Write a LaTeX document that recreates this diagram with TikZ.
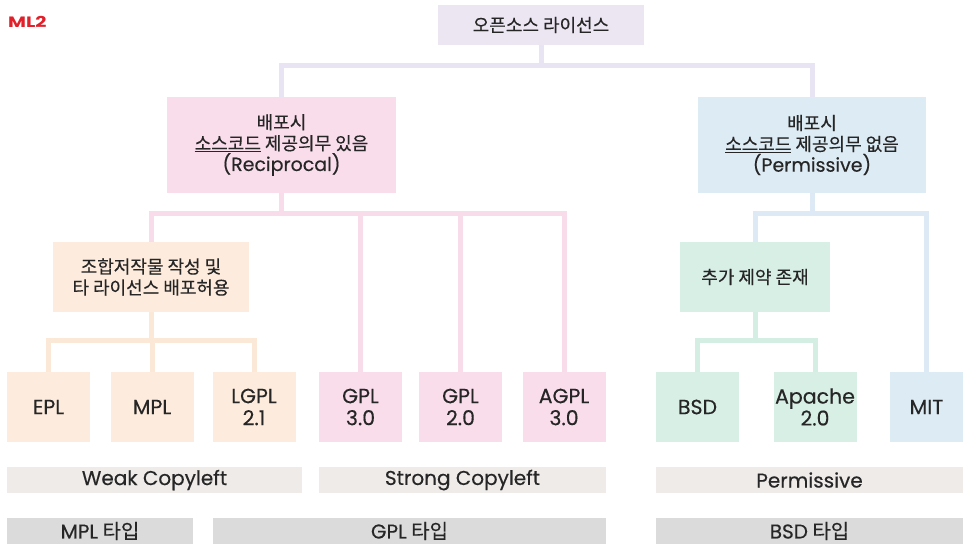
\documentclass[tikz,border=0pt]{standalone}
\usepackage{fontspec}
\setmainfont{Noto Sans CJK KR}[FakeBold=0.35]
\newfontfamily\lat{Poppins}[FakeBold=0.35]
\newfontfamily\mlfont{Poppins}[FakeStretch=1.3]
\definecolor{lavF}{HTML}{ECE6F3}
\definecolor{lavL}{HTML}{E9E4F3}
\definecolor{pinkF}{HTML}{F9DDEB}
\definecolor{pinkL}{HTML}{F9DCE9}
\definecolor{blueF}{HTML}{DCEBF4}
\definecolor{blueL}{HTML}{DDEAF5}
\definecolor{peachF}{HTML}{FDECDD}
\definecolor{peachL}{HTML}{FCE8D6}
\definecolor{mintF}{HTML}{D8EFE6}
\definecolor{mintL}{HTML}{D5EEE3}
\definecolor{barA}{HTML}{EEEBE9}
\definecolor{barB}{HTML}{DCDBDB}
\definecolor{txt}{HTML}{262626}
\definecolor{mlred}{HTML}{E0202A}
\tikzset{
  box/.style={draw=none, align=center, inner sep=0pt, text=txt,
    font=\fontsize{18}{21}\selectfont},
  leaf/.style={box, minimum width=83pt, minimum height=70pt,
    font=\lat\fontsize{20.5}{22}\selectfont},
  bar/.style={box, minimum height=26pt, font=\fontsize{20}{21}\selectfont},
  bartext/.style={font=\lat\fontsize{20}{21}\selectfont},
  conn/.style={line width=5pt},
}
\begin{document}
\begin{tikzpicture}[x=1pt,y=-1pt]
\useasboundingbox[fill=white] (0,0) rectangle (963,546);
\node[text=mlred, font=\mlfont\bfseries\fontsize{15}{15}\selectfont, anchor=west, inner sep=0pt] (ml) at (8,22) {ML2};

% level nodes
\node[box, fill=lavF, minimum width=206pt, minimum height=40pt] (top) at (541,25) {오픈소스 라이선스};
\node[box, fill=pinkF, minimum width=229pt, minimum height=96pt] (recip) at (281.5,145)
  {배포시\\\underline{소스코드} 제공의무 있음\\{\lat\fontsize{19}{21}\selectfont(Reciprocal)}};
\node[box, fill=blueF, minimum width=228pt, minimum height=96pt] (perm) at (812,145)
  {배포시\\\underline{소스코드} 제공의무 없음\\{\lat\fontsize{19}{21}\selectfont(Permissive)}};
\node[box, fill=peachF, minimum width=196pt, minimum height=70pt] (comb) at (151,277)
  {조합저작물 작성 및\\타 라이선스 배포허용};
\node[box, fill=mintF, minimum width=150pt, minimum height=70pt] (extra) at (755,277)
  {추가 제약 존재};

% leaves
\node[leaf, fill=peachF] (epl) at (48.5,407) {EPL};
\node[leaf, fill=peachF] (mpl) at (152,407) {MPL};
\node[leaf, fill=peachF] (lgpl) at (254,407) {LGPL\\2.1};
\node[leaf, fill=pinkF] (gpl3) at (360.5,407) {GPL\\3.0};
\node[leaf, fill=pinkF] (gpl2) at (460.5,407) {GPL\\2.0};
\node[leaf, fill=pinkF] (agpl) at (564,407) {AGPL\\3.0};
\node[leaf, fill=mintF] (bsd) at (697.5,407) {BSD};
\node[leaf, fill=mintF] (apache) at (815,407) {Apache\\2.0};
\node[leaf, fill=blueF, minimum width=73pt] (mit) at (926.5,407) {MIT};

% bars
\node[bar, bartext, fill=barA, minimum width=295pt] (weak) at (154.5,480) {Weak Copyleft};
\node[bar, bartext, fill=barA, minimum width=287pt] (strong) at (462.5,480) {Strong Copyleft};
\node[bar, bartext, fill=barA, minimum width=307pt] (permbar) at (809.5,480) {Permissive};
\node[bar, fill=barB, minimum width=186pt] (mpltype) at (100,531) {{\lat MPL} 타입};
\node[bar, fill=barB, minimum width=393pt] (gpltype) at (409.5,531) {{\lat GPL} 타입};
\node[bar, fill=barB, minimum width=307pt] (bsdtype) at (809.5,531) {{\lat BSD} 타입};

% connectors
\draw[conn, lavL] (top.south) -- ++(0,20) coordinate (tb);
\draw[conn, lavL] (recip.north) |- (tb) -| (perm.north);

\draw[conn, pinkL] (recip.south) -- ++(0,20) coordinate (rb);
\draw[conn, pinkL] (comb.north) |- (rb) -| (agpl.north);
\draw[conn, pinkL] (gpl3.north) -- (gpl3.north |- rb);
\draw[conn, pinkL] (gpl2.north) -- (gpl2.north |- rb);

\draw[conn, peachL] (comb.south) -- ++(0,28) coordinate (cb);
\draw[conn, peachL] (epl.north) |- (cb) -| (lgpl.north);
\draw[conn, peachL] (mpl.north) -- (mpl.north |- cb);

\draw[conn, blueL] (perm.south) -- ++(0,20) coordinate (pb);
\draw[conn, blueL] (extra.north) |- (pb) -| (mit.north);

\draw[conn, mintL] (extra.south) -- ++(0,28) coordinate (eb);
\draw[conn, mintL] (bsd.north) |- (eb) -| (apache.north);
\end{tikzpicture}
\end{document}
